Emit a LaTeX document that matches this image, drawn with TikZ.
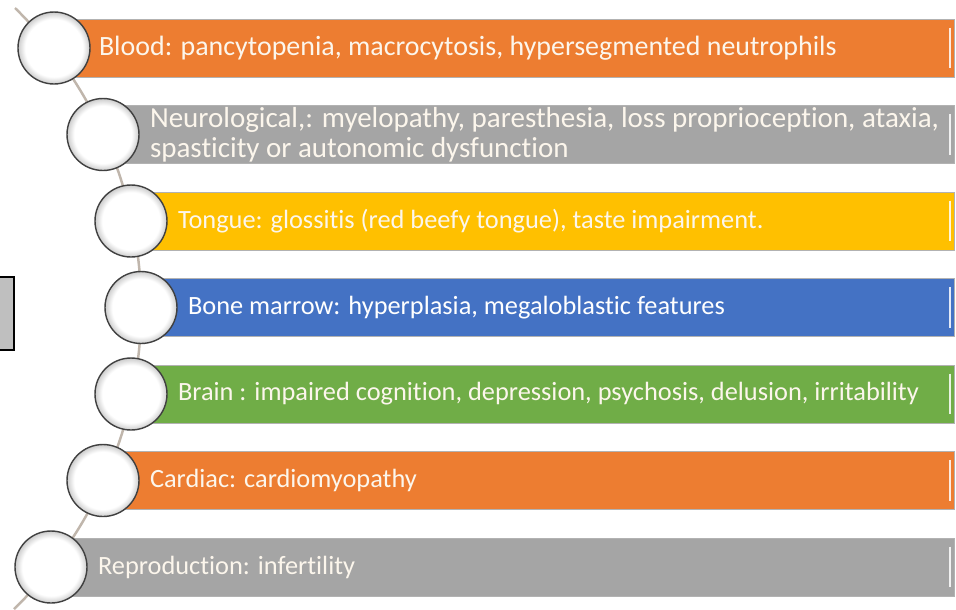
\documentclass[tikz,border=0pt]{standalone}
\usepackage{fontspec}
\setmainfont{Carlito}[Ligatures={NoCommon}]
\usepackage{tikz}
\usetikzlibrary{positioning,calc}
\definecolor{barorange}{RGB}{237,125,49}
\definecolor{bargray}{RGB}{165,165,165}
\definecolor{baryellow}{RGB}{255,192,0}
\definecolor{barblue}{RGB}{68,114,196}
\definecolor{bargreen}{RGB}{112,173,71}
\definecolor{txtcream}{RGB}{252,246,236}
\definecolor{trackcol}{RGB}{192,182,172}
\pgfdeclareradialshading{discshade}{\pgfpoint{0bp}{0bp}}{color(0bp)=(white); color(20bp)=(white); color(25bp)=(black!20); color(50bp)=(black!20)}

\begin{document}
\begin{tikzpicture}[x=0.02cm, y=-0.02cm]
  \tikzstyle{bar} = [rectangle, draw=black!30, line width=0.5pt, minimum height=1.16cm, inner sep=0pt, anchor=west]
  \tikzstyle{disc} = [circle, draw=black!75, line width=0.8pt, shading=discshade, minimum size=1.44cm, inner sep=0pt]
  \tikzstyle{lbl} = [anchor=west, text=txtcream, font=\fontsize{15}{17}\selectfont, align=left, inner sep=0pt]
  \tikzstyle{shine} = [draw=white, line width=1pt, opacity=0.85]
  \tikzstyle{track} = [draw=trackcol, line width=1.4pt]

  \useasboundingbox (0,0) rectangle (956,609);
  \fill[white] (0,0) rectangle (956,609);

  % curved track behind the discs
  \draw[track] (15,8) arc[start angle=-45.6, end angle=45.8, radius=420];

  % bars
  \node[bar, fill=barorange, minimum width=18.0cm] (b1) at (54,48) {};
  \node[bar, fill=bargray, minimum width=17.02cm] (b2) at (103,134.5) {};
  \node[bar, fill=baryellow, minimum width=16.46cm] (b3) at (131,221) {};
  \node[bar, fill=barblue, minimum width=16.26cm] (b4) at (141,307.5) {};
  \node[bar, fill=bargreen, minimum width=16.46cm] (b5) at (131,394) {};
  \node[bar, fill=barorange, minimum width=17.02cm] (b6) at (103,480.5) {};
  \node[bar, fill=bargray, minimum width=18.06cm] (b7) at (51,567) {};

  \draw[shine] ($(b1.north east)+(-5,9)$) -- ($(b1.south east)+(-5,-9)$);
  \draw[shine] ($(b2.north east)+(-5,9)$) -- ($(b2.south east)+(-5,-9)$);
  \draw[shine] ($(b3.north east)+(-5,9)$) -- ($(b3.south east)+(-5,-9)$);
  \draw[shine] ($(b4.north east)+(-5,9)$) -- ($(b4.south east)+(-5,-9)$);
  \draw[shine] ($(b5.north east)+(-5,9)$) -- ($(b5.south east)+(-5,-9)$);
  \draw[shine] ($(b6.north east)+(-5,9)$) -- ($(b6.south east)+(-5,-9)$);
  \draw[shine] ($(b7.north east)+(-5,9)$) -- ($(b7.south east)+(-5,-9)$);

  % discs
  \node[disc] (c1) at (54,48) {};
  \node[disc] (c2) at (103,134.5) {};
  \node[disc] (c3) at (131,221) {};
  \node[disc] (c4) at (141,307.5) {};
  \node[disc] (c5) at (131,394) {};
  \node[disc] (c6) at (103,480.5) {};
  \node[disc] (c7) at (51,567) {};

  % labels
  \node[lbl, right=0.16cm of c1, font=\fontsize{15.9}{17}\selectfont] (t1) {Blood: pancytopenia, macrocytosis, hypersegmented neutrophils};
  \node[lbl, right=0.2cm of c2, font=\fontsize{16.5}{17}\selectfont] (t2) {Neurological,: myelopathy, paresthesia, loss proprioception, ataxia,\\spasticity or autonomic dysfunction};
  \node[lbl, right=0.2cm of c3] (t3) {Tongue: glossitis (red beefy tongue), taste impairment.};
  \node[lbl, right=0.2cm of c4, text=white] (t4) {Bone marrow: hyperplasia, megaloblastic features};
  \node[lbl, right=0.2cm of c5] (t5) {Brain : impaired cognition, depression, psychosis, delusion, irritability};
  \node[lbl, right=0.2cm of c6] (t6) {Cardiac: cardiomyopathy};
  \node[lbl, right=0.2cm of c7] (t7) {Reproduction: infertility};

  % cut-off box at the left edge
  \draw[black, line width=0.6pt, fill=black!25] (-3,277) rectangle (14,350);
\end{tikzpicture}
\end{document}
